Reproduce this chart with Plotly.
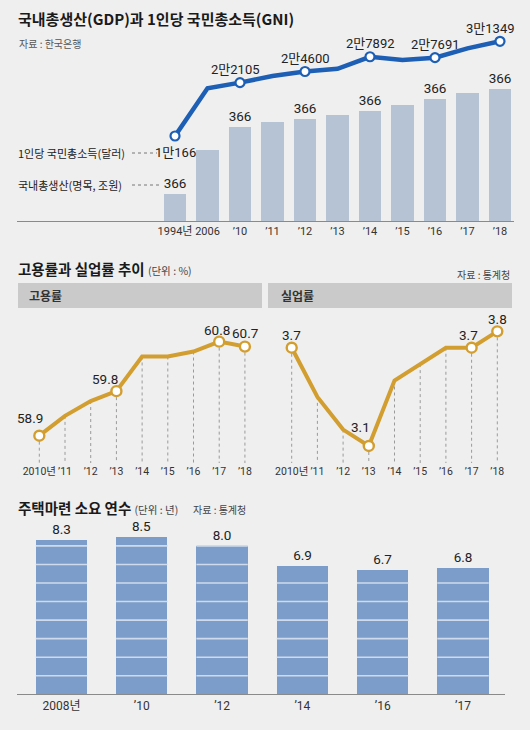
import plotly.graph_objects as go

W, H = 530, 730
FONT = "Noto Sans CJK KR"
NUM = "Roboto, Noto Sans CJK KR"
BG = "#efefef"

# 국내총생산 / 1인당 국민총소득
gdp_years = ["1994년", "2006", "’10", "’11", "’12", "’13", "’14", "’15", "’16", "’17", "’18"]
gdp_values = [366, 960, 1270, 1330, 1374, 1428, 1486, 1563, 1643, 1728, 1782]
gdp_labels = ["366", "", "366", "", "366", "", "366", "", "366", "", "366"]
gni_values = [10166, 20830, 22105, 23600, 24600, 25200, 27892, 27170, 27691, 29780, 31349]
gni_labels = ["1만166", "", "2만2105", "", "2만4600", "", "2만7892", "", "2만7691", "", "3만1349"]

# 고용률 / 실업률
rate_years = ["2010년", "’11", "’12", "’13", "’14", "’15", "’16", "’17", "’18"]
emp_values = [58.9, 59.3, 59.6, 59.8, 60.5, 60.5, 60.6, 60.8, 60.7]
emp_labels = ["58.9", "", "", "59.8", "", "", "", "60.8", "60.7"]
unemp_values = [3.7, 3.4, 3.2, 3.1, 3.5, 3.6, 3.7, 3.7, 3.8]
unemp_labels = ["3.7", "", "", "3.1", "", "", "", "3.7", "3.8"]

# 주택마련 소요 연수
house_years = ["2008년", "’10", "’12", "’14", "’16", "’17"]
house_values = [8.3, 8.5, 8.0, 6.9, 6.7, 6.8]


def px(p):
    return p / W


def py(p):
    return 1 - p / H


fig = go.Figure()

# ---- top: GDP bars + GNI line
xi = list(range(len(gdp_years)))
fig.add_trace(go.Bar(
    x=xi, y=gdp_values, text=gdp_labels, textposition="outside",
    constraintext="none", cliponaxis=False, width=0.7,
    marker=dict(color="#b6c3d4", line=dict(width=0)),
    textfont=dict(family=NUM, size=13.5, color="#222"),
    xaxis="x", yaxis="y", hoverinfo="skip"))
fig.add_trace(go.Scatter(
    x=xi, y=gni_values, mode="lines",
    line=dict(color="#1d5fb4", width=4.5),
    xaxis="x", yaxis="y2", hoverinfo="skip"))
gi = [i for i, t in enumerate(gni_labels) if t]
fig.add_trace(go.Scatter(
    x=gi, y=[gni_values[i] for i in gi], mode="markers",
    marker=dict(size=9, color="white", line=dict(color="#1d5fb4", width=2.2)),
    xaxis="x", yaxis="y2", cliponaxis=False, hoverinfo="skip"))

annotations = []
for i in gi:
    below = i == 0
    annotations.append(dict(
        x=i, y=gni_values[i], xref="x", yref="y2", text=gni_labels[i],
        showarrow=False, yshift=-17 if below else 13,
        xshift=-9 if i == len(gni_values) - 1 else (-5 if i == 2 else 0),
        font=dict(family=NUM, size=13, color="#222")))


# ---- middle: line charts
def rate_chart(values, labels, xa, ya, offsets):
    idx = list(range(len(values)))
    ymin = fig.layout[ya.replace("y", "yaxis")].range[0]
    dx, dy = [], []
    for i, v in zip(idx, values):
        dx += [i, i, None]
        dy += [v, ymin, None]
    fig.add_trace(go.Scatter(
        x=dx, y=dy, mode="lines", line=dict(color="#9a9a9a", width=1, dash="dot"),
        xaxis=xa, yaxis=ya, hoverinfo="skip"))
    fig.add_trace(go.Scatter(
        x=idx, y=values, mode="lines", line=dict(color="#d39e30", width=4),
        xaxis=xa, yaxis=ya, hoverinfo="skip"))
    li = [i for i, t in enumerate(labels) if t]
    fig.add_trace(go.Scatter(
        x=li, y=[values[i] for i in li], mode="markers",
        marker=dict(size=10, color="white", line=dict(color="#d39e30", width=2.4)),
        xaxis=xa, yaxis=ya, cliponaxis=False, hoverinfo="skip"))
    for i in li:
        ox, oy = offsets.get(i, (0, 13))
        annotations.append(dict(
            x=i, y=values[i], xref=xa, yref=ya, text=labels[i], showarrow=False,
            xshift=ox, yshift=oy, font=dict(family=NUM, size=13.5, color="#222")))


axis_font = dict(family=NUM, size=11, color="#333")


def xaxis(dom, rng, vals, text, line=False):
    return dict(domain=[px(dom[0]), px(dom[1])], range=rng, tickvals=vals,
                ticktext=text, showgrid=False, zeroline=False, ticks="",
                showline=line, linecolor="#8a8a8a", linewidth=1.2, tickangle=0,
                tickfont=axis_font, fixedrange=True)


def yaxis(dom, rng, anchor, **kw):
    d = dict(domain=[py(dom[0]), py(dom[1])], range=rng, anchor=anchor,
             showgrid=False, zeroline=False, showticklabels=False,
             showline=False, fixedrange=True)
    d.update(kw)
    return d


fig.update_layout(
    width=W, height=H, margin=dict(l=0, r=0, t=0, b=0),
    paper_bgcolor=BG, plot_bgcolor="rgba(0,0,0,0)", showlegend=False,
    bargap=0,
    xaxis=xaxis((17, 514), [-4.862, 10.431], xi, gdp_years, line=True),
    yaxis=yaxis((221, 30), [0, 2573], "x"),
    yaxis2=yaxis((221, 30), [-8850, 33880], "x", overlaying="y"),
    xaxis2=xaxis((18, 262), [-0.829, 8.665], list(range(9)), rate_years),
    yaxis3=yaxis((463, 315), [58.348, 61.338], "x2"),
    xaxis3=xaxis((268, 512), [-0.922, 8.572], list(range(9)), rate_years),
    yaxis4=yaxis((463, 315), [2.996, 3.9], "x3"),
    xaxis4=xaxis((17, 505), [-0.554, 5.523], list(range(len(house_years))),
                 house_years, line=True),
    yaxis5=yaxis((694.3, 520), [0, 9.397], "x4"),
)
fig.layout.xaxis4.tickfont.size = 12
fig.layout.xaxis2.tickfont.size = 10.5
fig.layout.xaxis3.tickfont.size = 10.5
fig.layout.xaxis2.anchor = "y3"
fig.layout.xaxis3.anchor = "y4"
fig.layout.xaxis4.anchor = "y5"

rate_chart(emp_values, emp_labels, "x2", "y3",
           {0: (-9, 18), 3: (-11, 12), 7: (-2, 12), 8: (0, 14)})
rate_chart(unemp_values, unemp_labels, "x3", "y4",
           {0: (0, 13), 3: (-8, 19), 7: (-3, 13), 8: (0, 12)})

# ---- bottom: house bars with stripes every 1 year
hi = list(range(len(house_years)))
fig.add_trace(go.Bar(
    x=hi, y=house_values, text=[f"{v:.1f}" for v in house_values],
    textposition="outside", constraintext="none", cliponaxis=False, width=0.64,
    marker=dict(color="#7c9cc9", line=dict(width=0)),
    textfont=dict(family=NUM, size=13.5, color="#222"),
    xaxis="x4", yaxis="y5", hoverinfo="skip"))
sx, sy = [], []
for i, v in zip(hi, house_values):
    for k in range(1, int(v) + 1):
        sx += [i - 0.32, i + 0.32, None]
        sy += [k, k, None]
fig.add_trace(go.Scatter(
    x=sx, y=sy, mode="lines", line=dict(color="#cfdbec", width=1.6),
    xaxis="x4", yaxis="y5", hoverinfo="skip"))

# ---- texts and decorations
def note(x, y, text, size=11, color="#333", anchor="left"):
    annotations.append(dict(
        x=px(x), y=py(y), xref="paper", yref="paper", text=text, showarrow=False,
        xanchor=anchor, yanchor="middle", font=dict(family=FONT, size=size, color=color)))


note(16, 18, "<b>국내총생산(GDP)과 1인당 국민총소득(GNI)</b>", size=15, color="#1a1a1a")
note(17, 44, "자료 : 한국은행", size=10, color="#555")
note(16, 153, "1인당 국민총소득(달러)", size=11, color="#222")
note(16, 185, "국내총생산(명목, 조원)", size=11, color="#222")

note(16, 268, "<b>고용률과 실업률 추이</b> <span style='font-size:10.5px;color:#444'>(단위 : %)</span>",
     size=14.5, color="#1a1a1a")
note(512, 274, "자료 : 통계청", size=10, color="#444", anchor="right")
note(27, 295.5, "<b>고용률</b>", size=12, color="#333")
note(279, 295.5, "<b>실업률</b>", size=12, color="#333")

note(16, 507, "<b>주택마련 소요 연수</b> <span style='font-size:10.5px;color:#444'>(단위 : 년)</span>",
     size=14.5, color="#1a1a1a")
note(191, 509, "자료 : 통계청", size=10, color="#444")

shapes = [
    dict(type="rect", xref="paper", yref="paper", x0=px(18), x1=px(262),
         y0=py(308), y1=py(283), fillcolor="#cacaca", line=dict(width=0), layer="below"),
    dict(type="rect", xref="paper", yref="paper", x0=px(268), x1=px(512),
         y0=py(308), y1=py(283), fillcolor="#cacaca", line=dict(width=0), layer="below"),
    dict(type="line", xref="paper", yref="paper", x0=px(132), x1=px(157),
         y0=py(153), y1=py(153), line=dict(color="#777", width=1, dash="dot")),
    dict(type="line", xref="paper", yref="paper", x0=px(132), x1=px(162),
         y0=py(185), y1=py(185), line=dict(color="#777", width=1, dash="dot")),
]

fig.update_layout(annotations=annotations, shapes=shapes)
fig.write_html("out.html", config={"displayModeBar": False},
               post_script="document.body.style.margin='0';")
